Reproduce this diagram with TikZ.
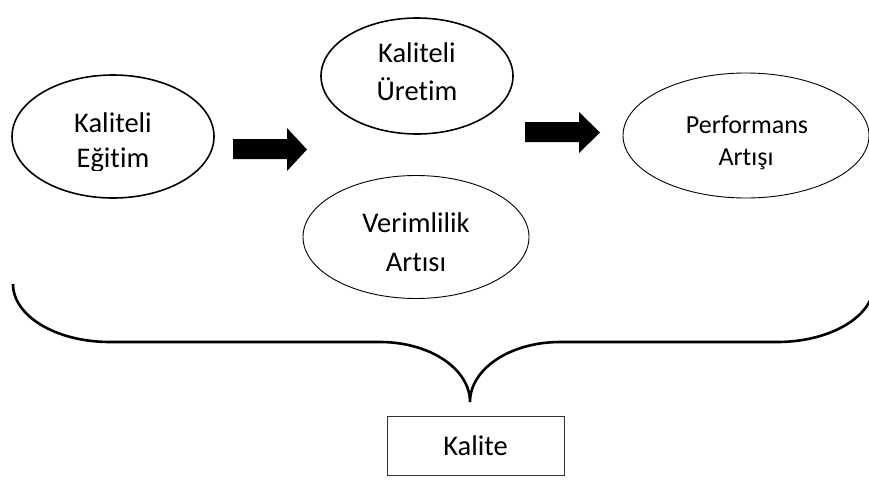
\documentclass[tikz,border=0pt]{standalone}
\usepackage{fontspec}
\setmainfont[Ligatures={NoCommon}]{Carlito}
\usetikzlibrary{shapes.geometric}

\tikzset{
  bubble/.style={draw, ellipse, inner sep=0pt},
  heavybubble/.style={bubble, line width=1.6pt},
  lightbubble/.style={bubble, line width=0.9pt},
  words/.style={anchor=base, inner sep=0pt, font=\fontsize{28.5}{34}\selectfont},
  smallwords/.style={words, font=\fontsize{26}{32}\selectfont},
  blockarrow/.style={fill=black},
  brace/.style={draw, line width=2.6pt, line cap=butt},
  resultbox/.style={draw=black!80, line width=0.9pt, rectangle, inner sep=0pt,
    minimum width=177pt, minimum height=59pt, text height=20pt, text depth=0pt,
    font=\fontsize{28.5}{34}\selectfont}
}

\begin{document}
\begin{tikzpicture}[x=1pt, y=-1pt]
  \useasboundingbox (0,0) rectangle (869,482);

  % the four outcome bubbles
  \node[heavybubble, minimum width=202pt, minimum height=123pt] (egitim) at (113,136.5) {};
  \node[heavybubble, minimum width=192pt, minimum height=116pt] (uretim) at (417,76) {};
  \node[lightbubble, minimum width=226pt, minimum height=123pt] (verim) at (416,237) {};
  \node[lightbubble, minimum width=246pt, minimum height=125pt] (perf) at (746,135.5) {};

  % their captions, one line each
  \node[words] (egitim-1) at (113,132) {Kaliteli};
  \begin{scope}
    \clip (0,0) rectangle (869,170);
    \node[words] (egitim-2) at (113,167) {Eğitim};
  \end{scope}
  \node[words] (uretim-1) at (417,62) {Kaliteli};
  \node[words] (uretim-2) at (417,100) {Üretim};
  \node[words] (verim-1) at (416,232) {Verimlilik};
  \node[words] (verim-2) at (416,271) {Artısı};
  \node[smallwords] (perf-1) at (747,133) {Performans};
  \node[smallwords] (perf-2) at (746,165) {Artışı};

  % block arrows
  \fill[blockarrow] (233,139) -- (287,139) -- (287,128) -- (307,149.5)
    -- (287,171) -- (287,159) -- (233,159) -- cycle;
  \fill[blockarrow] (525,122) -- (579,122) -- (579,112) -- (600,132.5)
    -- (579,153) -- (579,142) -- (525,142) -- cycle;

  % curly brace gathering everything above
  \coordinate (braceL) at (13,284);
  \coordinate (braceR) at (874,284);
  \coordinate (tip) at (470,402);
  \draw[brace] (braceL)
    .. controls (13,316) and (56,342) .. (110,342)
    -- (380,342)
    .. controls (430,342) and (470,369) .. (tip)
    .. controls (470,369) and (510,342) .. (560,342)
    -- (777,342)
    .. controls (831,342) and (874,316) .. (braceR);

  % result
  \node[resultbox] (kalite) at (475.5,445.5) {Kalite};
\end{tikzpicture}
\end{document}
